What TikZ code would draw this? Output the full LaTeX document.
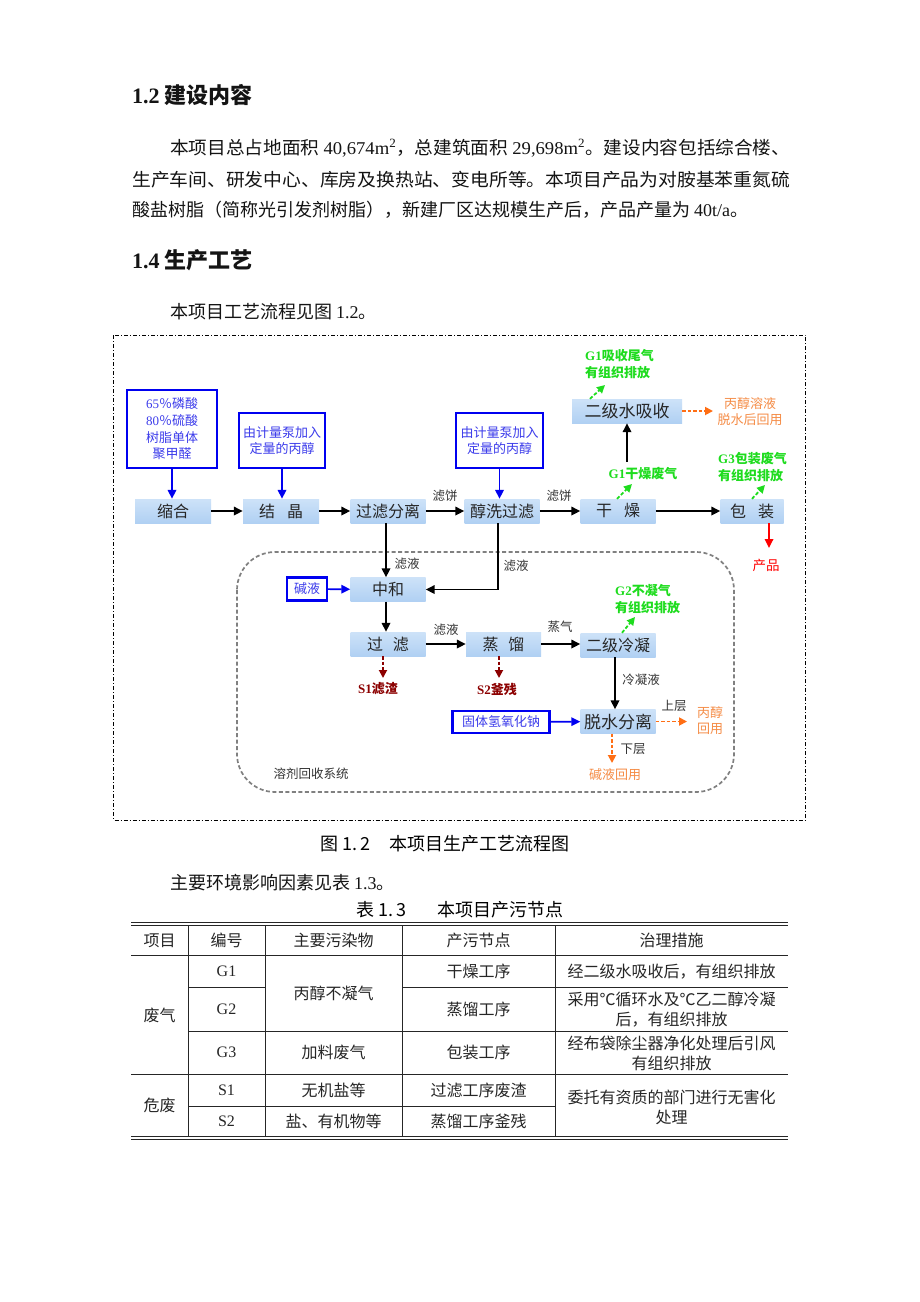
\documentclass[tikz,border=0pt]{standalone}
\usepackage{fontspec}
\usepackage{graphicx}
\setmainfont{Noto Sans CJK SC}
\newfontfamily\tnr{Liberation Serif}
\usetikzlibrary{arrows.meta}
\newcommand\fsz[1]{\fontsize{#1}{#1}\selectfont}
\definecolor{pblue}{RGB}{0,0,240}
\definecolor{tblue}{RGB}{60,60,235}
\definecolor{grn}{RGB}{30,220,30}
\definecolor{orA}{RGB}{255,110,20}
\definecolor{orT}{RGB}{245,140,70}
\definecolor{dred}{RGB}{140,0,0}
\definecolor{rred}{RGB}{255,0,0}
\definecolor{bxTop}{RGB}{205,226,248}
\definecolor{bxMid}{RGB}{236,244,253}
\definecolor{bxBot}{RGB}{176,208,243}
\tikzset{
  proc/.style={top color=bxTop, middle color=bxMid, bottom color=bxBot, draw=none,
    minimum width=75pt, minimum height=24pt, inner sep=0pt, font=\fsz{16}, text=black!85},
  inbox/.style={draw=pblue, line width=2.2pt, text=tblue, align=center, inner sep=0pt,
    font=\fontsize{13}{16.7}\selectfont, fill=white},
  arr/.style={line width=1.7pt, -{Triangle[length=9pt,width=8.5pt]}},
  blarr/.style={arr, draw=pblue, fill=pblue},
  darr/.style={line width=1.8pt, dash pattern=on 3.5pt off 2pt, -{Triangle[length=8pt,width=8pt]}},
  lbl/.style={font=\fsz{12.5}, text=black!80, inner sep=0pt},
  gl/.style={font=\fontsize{13}{17}\selectfont\bfseries, text=grn, align=left, inner sep=0pt},
  sl/.style={font=\fsz{13}\bfseries, text=dred, inner sep=0pt},
  ol/.style={font=\fontsize{13}{16}\selectfont, text=orT, align=center, inner sep=0pt},
  body/.style={font=\fsz{18}, text=black!92, inner sep=0pt, anchor=west},
  tb/.style={font=\fontsize{16}{20}\selectfont, text=black!85, align=center, inner sep=0pt},
  tl/.style={line width=0.8pt, black!85}
}
\begin{document}
\begin{tikzpicture}[x=1pt,y=-1pt]
\useasboundingbox (0,0) rectangle (920,1302);
\fill[white] (0,0) rectangle (920,1302);

% ---------- text above ----------
\node[body, font=\fsz{22}] (h1) at (132,95) {{\tnr\bfseries 1.2} {\bfseries 建设内容}};
\node[body] (p1) at (170,148) {\resizebox{620pt}{\height}{本项目总占地面积 {\tnr 40,674m\textsuperscript{2}}，总建筑面积 {\tnr 29,698m\textsuperscript{2}}。建设内容包括综合楼、}};
\node[body] (p2) at (132,179.5) {\resizebox{658pt}{\height}{生产车间、研发中心、库房及换热站、变电所等。本项目产品为对胺基苯重氮硫}};
\node[body] (p3) at (132,210) {酸盐树脂（简称光引发剂树脂），新建厂区达规模生产后，产品产量为 {\tnr 40t/a}。};
\node[body, font=\fsz{22}] (h2) at (132,260) {{\tnr\bfseries 1.4} {\bfseries 生产工艺}};
\node[body] (p4) at (170,312) {本项目工艺流程见图 {\tnr 1.2}。};

% ---------- frame ----------
\draw[line width=0.8pt, dash pattern=on 4pt off 2pt on 1pt off 2pt] (113.5,335) rectangle (805.5,820);

% ---------- solvent recovery region ----------
\draw[line width=1.7pt, black!50, dash pattern=on 4pt off 2.5pt, rounded corners=38pt] (237,552) rectangle (734,792);
\node[lbl] (sys) at (311,774) {溶剂回收系统};

% ---------- process boxes ----------
\node[proc, minimum width=76pt] (suohe) at (173,511) {缩合};
\node[proc, minimum width=76pt] (jiejing) at (281,511) {结\hspace{0.75em}晶};
\node[proc] (glfl) at (388,511) {过滤分离};
\node[proc] (chunxi) at (502,511) {醇洗过滤};
\node[proc] (ganzao) at (618,511) {干\hspace{0.75em}燥};
\node[proc, minimum width=63pt] (baoz) at (752,511) {包\hspace{0.75em}装};
\node[proc, minimum width=110pt, font=\fsz{17}] (erji) at (627,411) {二级水吸收};
\node[proc] (zhonghe) at (388,589.5) {中和};
\node[proc] (guolv) at (388,644) {过\hspace{0.6em}滤};
\node[proc] (zhengliu) at (503.5,644) {蒸\hspace{0.6em}馏};
\node[proc] (lengning) at (618,645) {二级冷凝};
\node[proc, font=\fsz{17}] (tuoshui) at (618,721.5) {脱水分离};

% ---------- input boxes ----------
\node[inbox, minimum width=90pt, minimum height=78pt] (in1) at (172,429) {{\tnr 65}％磷酸\\{\tnr 80}％硫酸\\树脂单体\\聚甲醛};
\node[inbox, minimum width=86pt, minimum height=55pt] (in2) at (282,440.5) {由计量泵加入\\定量的丙醇};
\node[inbox, minimum width=87pt, minimum height=55pt] (in3) at (499.5,440.5) {由计量泵加入\\定量的丙醇};
\node[inbox, minimum width=40pt, minimum height=23pt] (jianye) at (307,589) {碱液};
\node[inbox, minimum width=97pt, minimum height=22pt] (naoh) at (501,722) {固体氢氧化钠};

% ---------- labels ----------
\node[lbl] (lb1) at (445,496) {滤饼};
\node[lbl] (lb2) at (559,496) {滤饼};
\node[lbl] (lb3) at (407,564) {滤液};
\node[lbl] (lb4) at (516,566) {滤液};
\node[lbl] (lb5) at (446,630) {滤液};
\node[lbl] (lb6) at (560,627) {蒸气};
\node[lbl] (lb7) at (641,680) {冷凝液};
\node[lbl] (lb8) at (674,706) {上层};
\node[lbl] (lb9) at (633,749) {下层};

\node[gl, anchor=west] (g1b) at (585,364.5) {{\tnr G1}吸收尾气\\有组织排放};
\node[gl] (g1a) at (643,474) {{\tnr G1}干燥废气};
\node[gl, anchor=west] (g3) at (718,466.5) {{\tnr G3}包装废气\\有组织排放};
\node[gl, anchor=west] (g2) at (615,599) {{\tnr G2}不凝气\\有组织排放};
\node[sl] (s1) at (378,689) {{\tnr S1}滤渣};
\node[sl] (s2) at (497,689) {{\tnr S2}釜残};
\node[ol] (o1) at (750,411.5) {丙醇溶液\\脱水后回用};
\node[ol] (o2) at (710,721) {丙醇\\回用};
\node[ol] (o3) at (615,775) {碱液回用};
\node[font=\fsz{13.5}, text=rred, inner sep=0pt] (prod) at (766,565) {产品};

% ---------- free arrow ends ----------
\coordinate (t1) at (605,385);
\coordinate (t2) at (632,484);
\coordinate (t3) at (765,485);
\coordinate (t4) at (635,617);
\coordinate (t5) at (713,411);
\coordinate (t6) at (687,721.5);
\coordinate (t7) at (612,763);
\coordinate (t8) at (383,678);
\coordinate (t9) at (499,678);
\coordinate (t10) at (769,548);

% ---------- connectors ----------
\draw[blarr] (in1.south) -- (in1.south |- suohe.north);
\draw[blarr] (in2.south) -- (in2.south |- jiejing.north);
\draw[blarr] (in3.south) -- (in3.south |- chunxi.north);
\draw[blarr] (jianye) -- (zhonghe);
\draw[blarr] (naoh) -- (tuoshui);

\draw[arr] (suohe) -- (jiejing);
\draw[arr] (jiejing) -- (glfl);
\draw[arr] (glfl) -- (chunxi);
\draw[arr] (chunxi) -- (ganzao);
\draw[arr] (ganzao) -- (baoz);
\draw[arr] ([yshift=6pt]erji.south |- g1a.north) -- (erji.south);
\draw[arr] ([xshift=-2pt]glfl.south) -- ([xshift=-2pt]zhonghe.north);
\draw[arr] ([xshift=-4pt]chunxi.south) |- (zhonghe.east);
\draw[arr] ([xshift=-2pt]zhonghe.south) -- ([xshift=-2pt]guolv.north);
\draw[arr] (guolv) -- (zhengliu);
\draw[arr] (zhengliu.east) -- (zhengliu.east -| lengning.west);
\draw[arr] ([xshift=-3pt]lengning.south) -- ([xshift=-3pt]tuoshui.north);

\draw[darr, grn] ([xshift=-37pt]erji.north) -- (t1);
\draw[darr, grn] ([xshift=-1pt]ganzao.north) -- (t2);
\draw[darr, grn] (baoz.north) -- (t3);
\draw[darr, grn] ([xshift=4pt]lengning.north) -- (t4);
\draw[darr, orA] (erji.east) -- (t5);
\draw[darr, orA] (tuoshui.east) -- (t6);
\draw[darr, orA] ([xshift=-6pt]tuoshui.south) -- (t7);
\draw[darr, dred] ([xshift=-5pt]guolv.south) -- (t8);
\draw[darr, dred] ([xshift=-4.5pt]zhengliu.south) -- (t9);
\draw[arr, rred] ([xshift=17pt]baoz.south) -- (t10);

% ---------- captions ----------
\node[font=\fsz{18}, inner sep=0pt] (cap) at (445,844) {图 1.\,2\hspace{1.1em}本项目生产工艺流程图};
\node[body] (p5) at (170,883) {主要环境影响因素见表 {\tnr 1.3}。};
\node[font=\fsz{18}, inner sep=0pt] (tcap) at (460,910) {表 1.\,3\hspace{1.7em}本项目产污节点};

% ---------- table ----------
\draw[tl] (131,922.3) -- (788,922.3);
\draw[tl] (131,925) -- (788,925);
\draw[tl] (131,955.7) -- (788,955.7);
\draw[tl] (188,987.5) -- (265,987.5);
\draw[tl] (402,987.5) -- (788,987.5);
\draw[tl] (188,1031) -- (788,1031);
\draw[tl] (131,1074) -- (788,1074);
\draw[tl] (188,1106) -- (555,1106);
\draw[tl] (131,1136.5) -- (788,1136.5);
\draw[tl] (131,1139.2) -- (788,1139.2);
\foreach \cx in {188,265,402,555} \draw[tl] (\cx,925) -- (\cx,1136.5);

\node[tb] (th1) at (159.5,940.5) {项目};
\node[tb] (th2) at (226.5,940.5) {编号};
\node[tb] (th3) at (333.5,940.5) {主要污染物};
\node[tb] (th4) at (478.5,940.5) {产污节点};
\node[tb] (th5) at (671.5,940.5) {治理措施};

\node[tb] (c11) at (159.5,1015) {废气};
\node[tb] (c12) at (226.5,971.5) {\tnr G1};
\node[tb] (c22) at (226.5,1009) {\tnr G2};
\node[tb] (c32) at (226.5,1052.5) {\tnr G3};
\node[tb] (c13) at (333.5,993) {丙醇不凝气};
\node[tb] (c33) at (333.5,1052.5) {加料废气};
\node[tb] (c14) at (478.5,971.5) {干燥工序};
\node[tb] (c24) at (478.5,1009) {蒸馏工序};
\node[tb] (c34) at (478.5,1052.5) {包装工序};
\node[tb] (c15) at (671.5,971.5) {经二级水吸收后，有组织排放};
\node[tb] (c25) at (671.5,1010) {采用℃循环水及℃乙二醇冷凝\\后，有组织排放};
\node[tb] (c35) at (671.5,1053) {经布袋除尘器净化处理后引风\\有组织排放};

\node[tb] (c41) at (159.5,1105) {危废};
\node[tb] (c42) at (226.5,1090) {\tnr S1};
\node[tb] (c52) at (226.5,1121) {\tnr S2};
\node[tb] (c43) at (333.5,1090) {无机盐等};
\node[tb] (c53) at (333.5,1121) {盐、有机物等};
\node[tb] (c44) at (478.5,1090) {过滤工序废渣};
\node[tb] (c54) at (478.5,1121) {蒸馏工序釜残};
\node[tb] (c45) at (671.5,1107) {委托有资质的部门进行无害化\\处理};
\end{tikzpicture}
\end{document}
